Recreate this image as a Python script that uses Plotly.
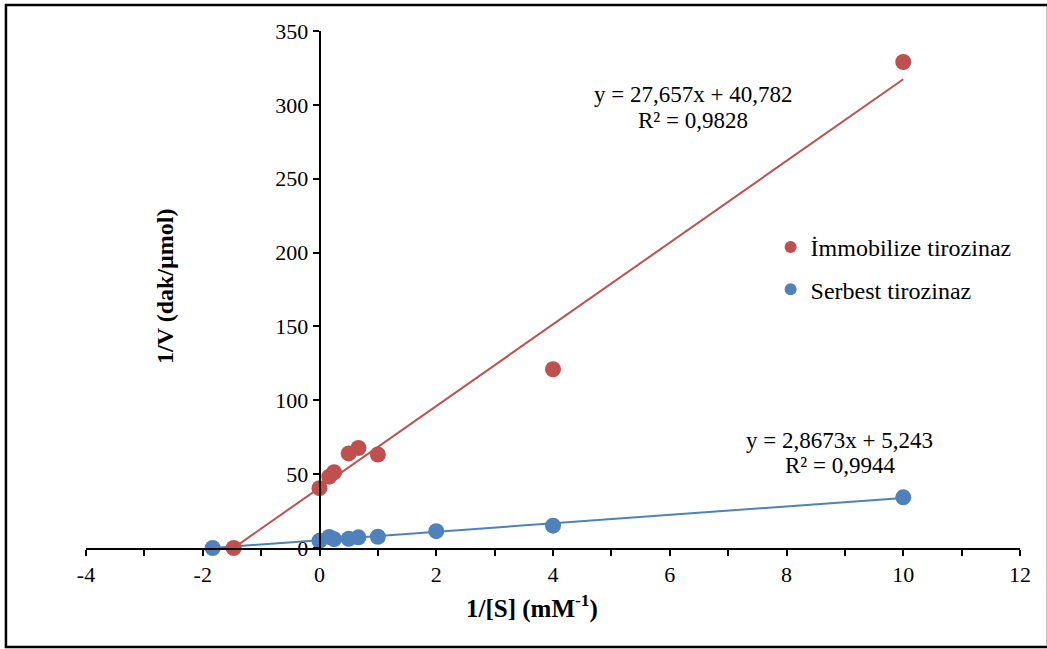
import plotly.graph_objects as go

# Lineweaver-Burk data: 1/[S] (mM^-1) vs 1/V (dak/µmol)
immob_x = [-1.47, 0, 0.167, 0.25, 0.5, 0.667, 1, 4, 10]
immob_y = [0, 40.5, 48.3, 51.3, 64.0, 67.7, 63.3, 121.0, 329.0]

serbest_x = [-1.83, 0, 0.167, 0.25, 0.5, 0.667, 1, 2, 4, 10]
serbest_y = [0, 4.9, 7.5, 6.0, 6.2, 7.2, 7.6, 11.4, 15.1, 34.3]

# Linear trendline coefficients (slope, intercept) and R²
immob_fit = (27.657, 40.782, 0.9828)
serbest_fit = (2.8673, 5.243, 0.9944)
fit_x_end = 10

x_ticks = [-4, -2, 0, 2, 4, 6, 8, 10, 12]
x_tick_labels = ["-4", "-2", "0", "2", "4", "6", "8", "10", "12"]

series_names = ["İmmobilize tirozinaz", "Serbest tirozinaz"]
RED = "#C0504D"
BLUE = "#4F81BD"
FONT = "Liberation Serif, Times New Roman, serif"


def trend(fit):
    m, b, _ = fit
    x0 = -b / m
    return [x0, fit_x_end], [m * x0 + b, m * fit_x_end + b]


def fmt(v, nd):
    return f"{v:.{nd}f}".replace(".", ",")


fig = go.Figure()

for fit, color in [(immob_fit, RED), (serbest_fit, BLUE)]:
    tx, ty = trend(fit)
    fig.add_trace(go.Scatter(x=tx, y=ty, mode="lines",
                             line=dict(color=color, width=2),
                             showlegend=False, hoverinfo="skip",
                             cliponaxis=False))

fig.add_trace(go.Scatter(x=immob_x, y=immob_y, mode="markers",
                         name=series_names[0], legendgroup="a",
                         marker=dict(color=RED, size=16),
                         cliponaxis=False))
fig.add_trace(go.Scatter(x=serbest_x, y=serbest_y, mode="markers",
                         name=series_names[1], legendgroup="b",
                         marker=dict(color=BLUE, size=16),
                         cliponaxis=False))

# Trendline equations
eqs = [
    (immob_fit, 3, 3, 4, 6.40, 307, 289.5),
    (serbest_fit, 4, 3, 4, 8.91, 73, 56),
]
for (m, b, r2), nd_m, nd_b, nd_r, xc, y1, y2 in eqs:
    fig.add_annotation(x=xc, y=y1, xref="x", yref="y", showarrow=False,
                       text=f"y = {fmt(m, nd_m)}x + {fmt(b, nd_b)}",
                       font=dict(family=FONT, size=23, color="black"))
    fig.add_annotation(x=xc, y=y2, xref="x", yref="y", showarrow=False,
                       text=f"R² = {fmt(r2, nd_r)}",
                       font=dict(family=FONT, size=23, color="black"))

# Axis titles
fig.add_annotation(x=0.0846, y=0.505, xref="paper", yref="paper",
                   xanchor="center", yanchor="middle",
                   showarrow=False, textangle=-90,
                   text="<b>1/V (dak/µmol)</b>",
                   font=dict(family=FONT, size=24, color="black"))
fig.add_annotation(x=0.4775, y=-0.114, xref="paper", yref="paper",
                   xanchor="center", yanchor="middle", showarrow=False,
                   text="<b>1/[S] (mM<sup>-1</sup>)</b>",
                   font=dict(family=FONT, size=25, color="black"))

# Outer chart border
fig.add_shape(type="rect", xref="paper", yref="paper",
              x0=-0.0857, x1=1.03, y0=-0.1915, y1=1.0503,
              line=dict(color="black", width=2.5), fillcolor="rgba(0,0,0,0)")

fig.update_layout(
    width=1047, height=649,
    margin=dict(l=86, r=27, t=31, b=101),
    paper_bgcolor="white", plot_bgcolor="white",
    font=dict(family=FONT, size=22, color="black"),
    showlegend=True,
    legend=dict(x=0.733, y=0.625, xanchor="left", yanchor="top",
                bgcolor="rgba(0,0,0,0)", tracegroupgap=8,
                itemsizing="constant",
                font=dict(family=FONT, size=24, color="black")),
    xaxis=dict(range=[-4, 12], tickmode="array", tickvals=x_ticks,
               ticktext=x_tick_labels, showgrid=False,
               zeroline=False, showline=True, linecolor="black", linewidth=1.5,
               ticks="outside", ticklen=6, tickcolor="black", tickwidth=1.5,
               minor=dict(dtick=1, tick0=0, ticks="outside", ticklen=6,
                          tickcolor="black", tickwidth=1.5),
               tickfont=dict(family=FONT, size=22)),
    yaxis=dict(range=[0, 350], dtick=50, showgrid=False, zeroline=False,
               anchor="free", position=0.25,
               showline=True, linecolor="black", linewidth=1.5,
               ticks="outside", ticklen=6, tickcolor="black", tickwidth=1.5,
               tickfont=dict(family=FONT, size=22)),
)

fig.write_html("out.html")
